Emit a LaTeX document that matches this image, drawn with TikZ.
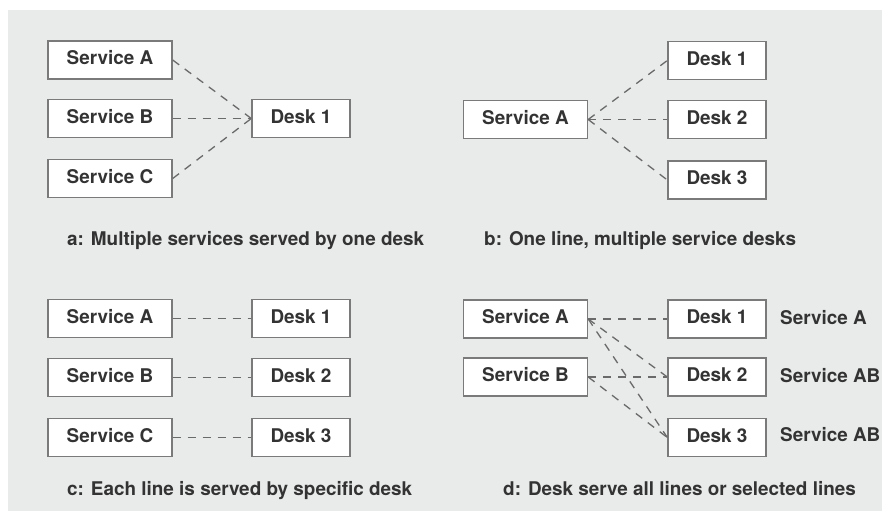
\documentclass[tikz,border=0pt]{standalone}
\usepackage{fontspec}
\setmainfont{TeX Gyre Heros}
\begin{document}
\begin{tikzpicture}[x=1pt,y=-1pt,
  every node/.style={font=\fontsize{18.9}{22}\selectfont\bfseries, text=txt,
    text height=0.98em, text depth=0pt, inner sep=0pt},
  svc/.style={draw=frame, line width=1.4pt, fill=white, minimum width=124pt, minimum height=38pt},
  desk/.style={draw=frame, line width=1.4pt, fill=white, minimum width=98pt, minimum height=38pt},
  link/.style={draw=lnk, line width=1.3pt, dash pattern=on 8pt off 7pt},
  caption/.style={anchor=west},
  tag/.style={anchor=west}]
\definecolor{bg}{HTML}{E9EAEA}
\definecolor{frame}{HTML}{7A7A7A}
\definecolor{lnk}{HTML}{6A6A6A}
\definecolor{txt}{HTML}{333333}
\useasboundingbox (0,0) rectangle (882,511);
\fill[white] (0,0) rectangle (882,511);
\fill[bg] (8,10) rectangle (882,511);

% a: several services, one desk
\node[svc]  (aA) at (110,60)    {Service A};
\node[svc]  (aB) at (110,118.5) {Service B};
\node[svc]  (aC) at (110,178.5) {Service C};
\node[desk] (aD) at (301,118.5) {Desk 1};
\draw[link] (aA.east) -- (aD.west);
\draw[link] (aB.east) -- (aD.west);
\draw[link] (aC.east) -- (aD.west);
\node[caption] (capa) at (67,241) {a: Multiple services served by one desk};

% b: one line, several desks
\node[svc]  (bA)  at (525.5,119.5) {Service A};
\node[desk] (bD1) at (717,60.5)    {Desk 1};
\node[desk] (bD2) at (717,119.5)   {Desk 2};
\node[desk] (bD3) at (717,180)     {Desk 3};
\draw[link] (bA.east) -- (bD1.west);
\draw[link] (bA.east) -- (bD2.west);
\draw[link] (bA.east) -- (bD3.west);
\node[caption] (capb) at (484,241) {b: One line, multiple service desks};

% c: one desk per line
\node[svc]  (cA)  at (110,318.5) {Service A};
\node[svc]  (cB)  at (110,377.5) {Service B};
\node[svc]  (cC)  at (110,437.5) {Service C};
\node[desk] (cD1) at (301,318.5) {Desk 1};
\node[desk] (cD2) at (301,377.5) {Desk 2};
\node[desk] (cD3) at (301,437.5) {Desk 3};
\draw[link] (cA.east) -- (cD1.west);
\draw[link] (cB.east) -- (cD2.west);
\draw[link] (cC.east) -- (cD3.west);
\node[caption] (capc) at (67,490.5) {c: Each line is served by specific desk};

% d: desks serving all or selected lines
\node[svc]  (dA)  at (525.5,319)   {Service A};
\node[svc]  (dB)  at (525.5,377)   {Service B};
\node[desk] (dD1) at (717,319)     {Desk 1};
\node[desk] (dD2) at (717,377)     {Desk 2};
\node[desk] (dD3) at (717,437.5)   {Desk 3};
\draw[link] (dA.east) -- (dD1.west);
\draw[link] (dA.east) -- (dD2.west);
\draw[link] (dA.east) -- (dD3.west);
\draw[link] (dB.east) -- (dD2.west);
\draw[link] (dB.east) -- (dD3.west);
\node[tag] (t1) at (780,320) {Service A};
\node[tag] (t2) at (780,378) {Service AB};
\node[tag] (t3) at (780,437) {Service AB};
\node[caption] (capd) at (503,490.5) {d: Desk serve all lines or selected lines};
\end{tikzpicture}
\end{document}
